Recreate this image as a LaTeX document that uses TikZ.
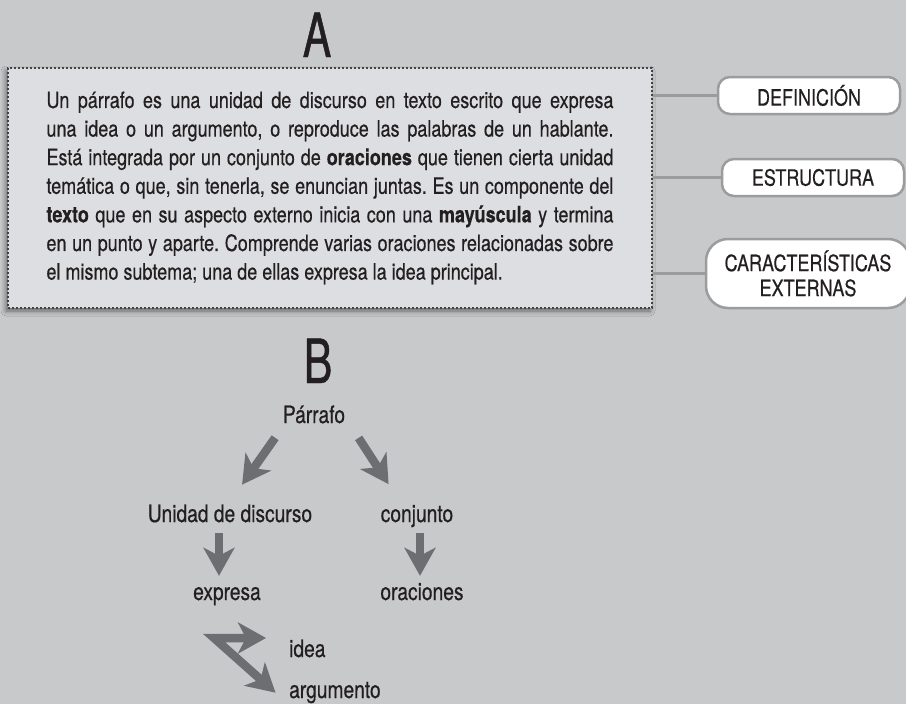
\documentclass[tikz,border=0pt]{standalone}
\usepackage{fontspec}
\setmainfont{TeX Gyre Heros}[FakeStretch=0.8,FakeBold=0.4]
\newfontfamily\letra{TeX Gyre Heros}[FakeStretch=0.7,FakeBold=0.8]
\usetikzlibrary{arrows.meta,shadows.blur}
\definecolor{fondo}{RGB}{200,201,203}
\definecolor{caja}{RGB}{221,222,225}
\definecolor{tinta}{RGB}{35,31,32}
\definecolor{flecha}{RGB}{109,110,113}
\definecolor{linea}{RGB}{155,156,158}
\frenchspacing

\begin{document}
\begin{tikzpicture}[x=1pt,y=-1pt,
  rotulo/.style={font=\fontsize{22.5}{25}\selectfont, text=tinta},
  texto/.style={font=\fontsize{24}{28}\selectfont, text=tinta, inner sep=3pt, text height=17pt, text depth=5pt},
  etiqueta/.style={rotulo, draw=linea, line width=2.5pt, fill=white, rounded corners=12pt,
    minimum width=182pt, minimum height=37pt, align=center},
  titulo/.style={font=\letra\fontsize{61}{61}\selectfont, text=tinta, anchor=base, inner sep=0pt},
  bigarrow/.style={draw=flecha, line width=8.5pt, -{Stealth[length=28pt,width=31pt,inset=8pt]}},
  link/.style={draw=linea, line width=3pt}]
\useasboundingbox (0,0) rectangle (906,704);
\fill[fondo] (0,0) rectangle (906,704);
\node[titulo] (letraA) at (317,57) {A};
\node[draw=tinta!85, dash pattern=on 2pt off 2pt, line width=2pt, fill=caja,
  blur shadow={shadow xshift=-2pt, shadow yshift=-3pt, shadow blur radius=5pt, shadow opacity=50},
  minimum width=644pt, minimum height=240pt, text width=567pt, inner sep=0pt, align=justify,
  font=\fontsize{22.5}{28.6}\selectfont, text=tinta] (caja) at (330,188)
  {Un párrafo es una unidad de discurso en texto escrito que expresa\linebreak
   una idea o un argumento, o reproduce las palabras de un hablante.\linebreak
   Está integrada por un conjunto de \textbf{oraciones} que tienen cierta unidad\linebreak
   temática o que, sin tenerla, se enuncian juntas. Es un componente del\linebreak
   \textbf{texto} que en su aspecto externo inicia con una \textbf{mayúscula} y termina\linebreak
   en un punto y aparte. Comprende varias oraciones relacionadas sobre\linebreak
   el mismo subtema; una de ellas expresa la idea principal.};
\node[etiqueta] (defi) at (809,95.5) {DEFINICIÓN};
\node[etiqueta] (estr) at (813,177.5) {ESTRUCTURA};
\node[etiqueta, minimum width=204pt, minimum height=69pt, rounded corners=22pt] (cara) at (808,273.5)
  {CARACTERÍSTICAS\\EXTERNAS};
\foreach \n in {defi,estr,cara}
  \draw[link] (\n.west) -- (\n.west -| caja.east);
\node[titulo] (letraB) at (318,383) {B};
\node[texto, anchor=base] (parrafo) at (314,423) {Párrafo};
\node[texto, anchor=base] (unidad) at (230,522) {Unidad de discurso};
\node[texto, anchor=base] (conjunto) at (417,522) {conjunto};
\node[texto, anchor=base] (expresa) at (227,600) {expresa};
\node[texto, anchor=base] (oraciones) at (422,600) {oraciones};
\node[texto, anchor=base west] (idea) at (286,657) {idea};
\node[texto, anchor=base west] (argumento) at (286,698) {argumento};
\coordinate (zeta) at (214,638);
\draw[bigarrow, shorten <=8pt, shorten >=21pt] (parrafo.south west) -- (unidad.north);
\draw[bigarrow, shorten <=8pt, shorten >=21pt] ([shift={(6,0)}]parrafo.south east) -- ([shift={(-17,0)}]conjunto.north);
\draw[bigarrow, shorten <=3pt, shorten >=4pt] ([shift={(-11,0)}]unidad.south) -- ([shift={(-11,0)}]unidad.south |- expresa.north);
\draw[bigarrow, shorten <=3pt, shorten >=4pt] ([shift={(3,0)}]conjunto.south) -- ([shift={(3,0)}]conjunto.south |- oraciones.north);
\draw[bigarrow, {Stealth[length=28pt,width=31pt,inset=8pt]}-{Stealth[length=28pt,width=31pt,inset=8pt]},
  shorten <=20pt, shorten >=14pt] (zeta -| idea.west) -- (zeta) -- ([shift={(0,10)}]argumento.west);
\end{tikzpicture}
\end{document}
